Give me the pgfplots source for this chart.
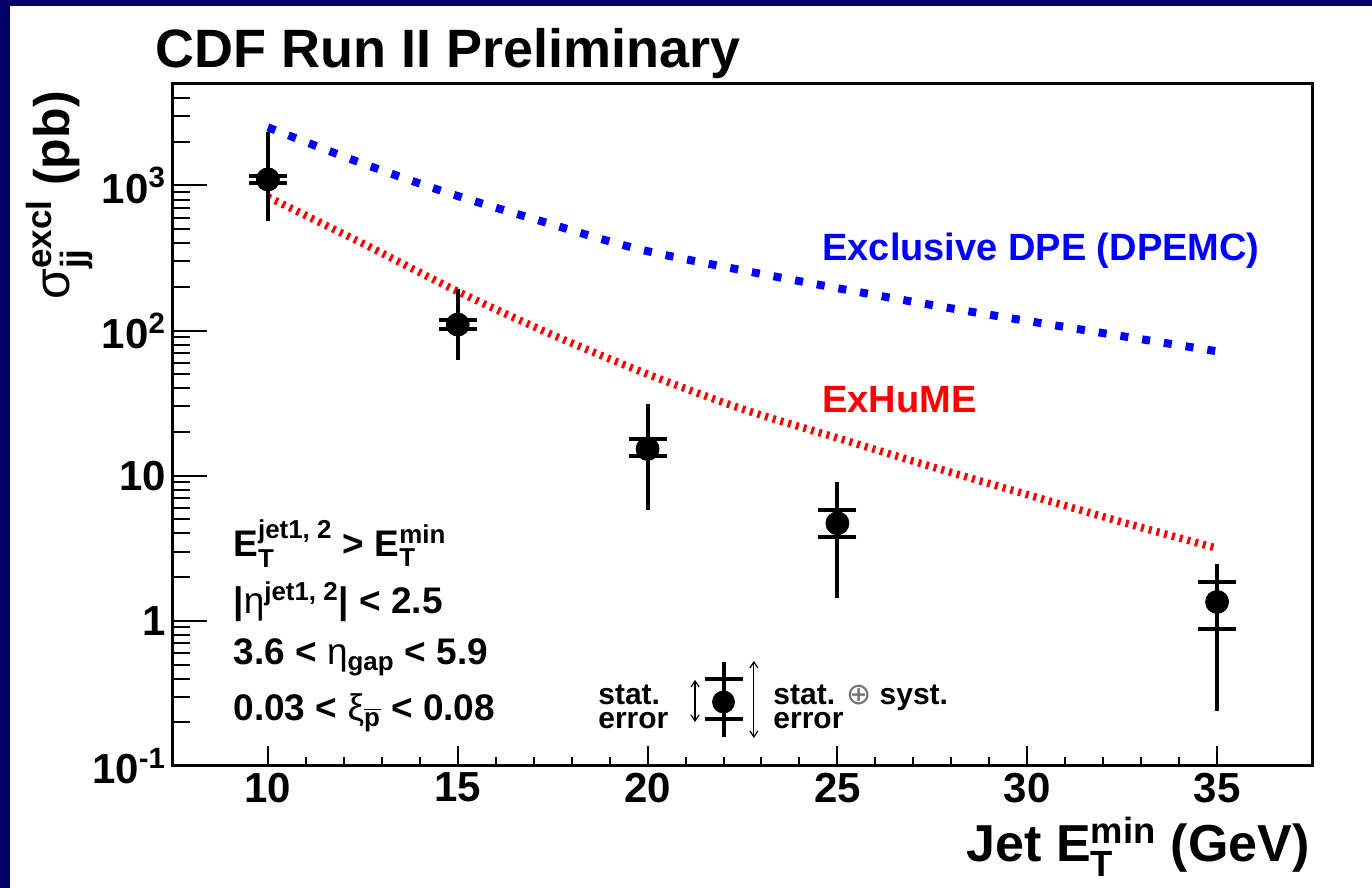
\documentclass[border=0pt]{standalone}
\usepackage{pgfplots}
\pgfplotsset{compat=1.18}
\usepackage{pgfplotstable}
\usepackage{amsmath}
\usepackage{fontspec}
\setmainfont{Liberation Sans}
\newfontfamily\djv{DejaVu Sans}
\usetikzlibrary{arrows.meta}

\definecolor{slidenavy}{RGB}{0,0,102}
\definecolor{dpeblue}{RGB}{0,0,255}
\definecolor{exred}{RGB}{255,0,0}

% stacked super/subscripts that do not widen the line box
\newcommand{\supsub}[2]{\smash{$^{\text{#1}}_{\text{#2}}$}}
\newcommand{\supe}[1]{\smash{$^{\text{#1}}$}}
\newcommand{\subs}[1]{\smash{$_{\text{#1}}$}}

% measured exclusive dijet cross sections:
% central value, stat. band (slo, shi), stat+syst band (tlo, thi)
\pgfplotstableread{
x   y     slo    shi    tlo    thi
10  1100  1035   1160   565    2320
15  110   103    119    63     192
20  15.3  13.7   18.0   5.8    31
25  4.7   3.8    5.8    1.44   9.0
35  1.35  0.877  1.85   0.24   2.47
}\xsecdata

% sample point for the error key
\pgfplotstableread{
x   y      slo    shi    tlo    thi
22  0.276  0.211  0.398  0.158  0.521
}\keydata

\begin{document}
\begin{tikzpicture}
  % slide background
  \fill[slidenavy] (0,0) rectangle (686pt,444pt);
  \fill[white] (5pt,0) rectangle (686pt,441pt);

  \begin{axis}[
    name=ax,
    at={(86.5pt,61pt)}, anchor=south west,
    scale only axis, width=569.5pt, height=341pt,
    xmin=7.5, xmax=37.5,
    ymode=log, ymin=0.1, ymax=5000,
    axis line style={line width=1.5pt},
    xtick={10,15,20,25,30,35},
    xticklabels={10,15,20,25,30,35},
    minor x tick num=4,
    ytick={0.1,1,10,100,1000},
    yticklabels={10\textsuperscript{-1},1,10,10\textsuperscript{2},10\textsuperscript{3}},
    minor ytick={0.2,0.3,0.4,0.5,0.6,0.7,0.8,0.9,2,3,4,5,6,7,8,9,20,30,40,50,60,70,80,90,200,300,400,500,600,700,800,900,2000,3000,4000},
    xtick pos=lower, ytick pos=left, tick align=inside,
    major tick length=17pt, minor tick length=8.5pt,
    xtick style={/pgfplots/major tick length=10pt, /pgfplots/minor tick length=4.5pt},
    every tick/.style={black, line width=1pt},
    tick label style={font=\fontsize{21}{25}\selectfont\bfseries},
  ]

  % model curves
  \addplot[dpeblue, line width=4pt, dash pattern=on 4pt off 7pt, smooth] coordinates {
    (10,2512) (12.39,1449) (14.68,899) (16.99,589) (19.81,362)
    (23.2,240) (26.64,164) (29.45,123) (35,72)
  };
  \addplot[exred, line width=3.8pt, dash pattern=on 1.5pt off 2.5pt, smooth] coordinates {
    (10,832) (12.5,398) (15,186) (17.5,93.3) (20,50.1) (22.5,28.8)
    (25,18.2) (27.5,11.5) (30,7.41) (32.5,4.79) (35,3.16)
  };

  % data: total error bars and points
  \addplot[black, only marks, mark=*, mark size=5.75pt,
    error bars/.cd, y dir=both, y explicit, error mark=none,
    error bar style={line width=2pt, black}]
    table[x=x, y=y,
      y error plus expr=\thisrow{thi}-\thisrow{y},
      y error minus expr=\thisrow{y}-\thisrow{tlo}] {\xsecdata};
  % statistical error ticks
  \addplot[black, only marks, mark=-, mark size=9.5pt, mark options={line width=2pt}]
    table[x=x, y=slo] {\xsecdata};
  \addplot[black, only marks, mark=-, mark size=9.5pt, mark options={line width=2pt}]
    table[x=x, y=shi] {\xsecdata};

  % error key sample
  \addplot[black, only marks, mark=*, mark size=5.5pt,
    error bars/.cd, y dir=both, y explicit, error mark=none,
    error bar style={line width=2pt, black}]
    table[x=x, y=y,
      y error plus expr=\thisrow{thi}-\thisrow{y},
      y error minus expr=\thisrow{y}-\thisrow{tlo}] {\keydata};
  \addplot[black, only marks, mark=-, mark size=9.5pt, mark options={line width=2pt}]
    table[x=x, y=slo] {\keydata};
  \addplot[black, only marks, mark=-, mark size=9.5pt, mark options={line width=2pt}]
    table[x=x, y=shi] {\keydata};
  \draw[line width=0.6pt, {Straight Barb[length=3pt,width=4pt]}-{Straight Barb[length=3pt,width=4pt]}]
    (axis cs:21.25,0.392) -- (axis cs:21.25,0.201);
  \draw[line width=0.6pt, {Straight Barb[length=3pt,width=4pt]}-{Straight Barb[length=3pt,width=4pt]}]
    (axis cs:22.8,0.53) -- (axis cs:22.8,0.156);

  % curve labels
  \node[anchor=base west, inner sep=0, text=dpeblue, font=\fontsize{19}{23}\selectfont\bfseries]
    at (rel axis cs:0.5698,0.7405) {Exclusive DPE (DPEMC)};
  \node[anchor=base west, inner sep=0, text=exred, font=\fontsize{19}{23}\selectfont\bfseries]
    at (rel axis cs:0.5698,0.519) {ExHuME};

  % selection cuts
  \begin{scope}[every node/.style={anchor=base west, inner sep=0, font=\fontsize{18.5}{22}\selectfont\bfseries}]
    \node at (rel axis cs:0.0527,0.3079) {E\supsub{jet1, 2}{T} > E\supsub{min}{T}};
    \node at (rel axis cs:0.0527,0.2243) {|\textmd{η}\supe{jet1, 2}| < 2.5};
    \node at (rel axis cs:0.0527,0.1481) {3.6 < \textmd{η}\subs{gap} < 5.9};
    \node at (rel axis cs:0.0527,0.0674) {0.03 < \textmd{ξ}\smash{$_{\overline{\text{p}}}$} < 0.08};
  \end{scope}

  % error key text
  \begin{scope}[every node/.style={anchor=north west, inner sep=0, align=left,
      font=\fontsize{15}{12}\selectfont\bfseries}]
    \node at (rel axis cs:0.3731,0.1195) {stat.\\error};
    \node at (rel axis cs:0.5268,0.1195) {stat. {\djv\mdseries\color{black!55}⊕} syst.\\error};
  \end{scope}
  \end{axis}

  % title and axis titles
  \node[anchor=base west, inner sep=0, font=\fontsize{27}{32}\selectfont\bfseries]
    at (77.5pt,410pt) {CDF Run II Preliminary};
  \node[anchor=base east, inner sep=0, font=\fontsize{26}{31}\selectfont\bfseries]
    at (655pt,13pt) {Jet E$^{\text{min}}_{\text{T}}$ (GeV)};
  \node[anchor=base west, inner sep=0, rotate=90, font=\fontsize{25}{30}\selectfont\bfseries]
    at (35pt,294pt) {\textmd{σ}$^{\text{excl}}_{\text{jj}}$ (pb)};

  \pgfresetboundingbox
  \useasboundingbox (0,0) rectangle (686pt,444pt);
\end{tikzpicture}
\end{document}
